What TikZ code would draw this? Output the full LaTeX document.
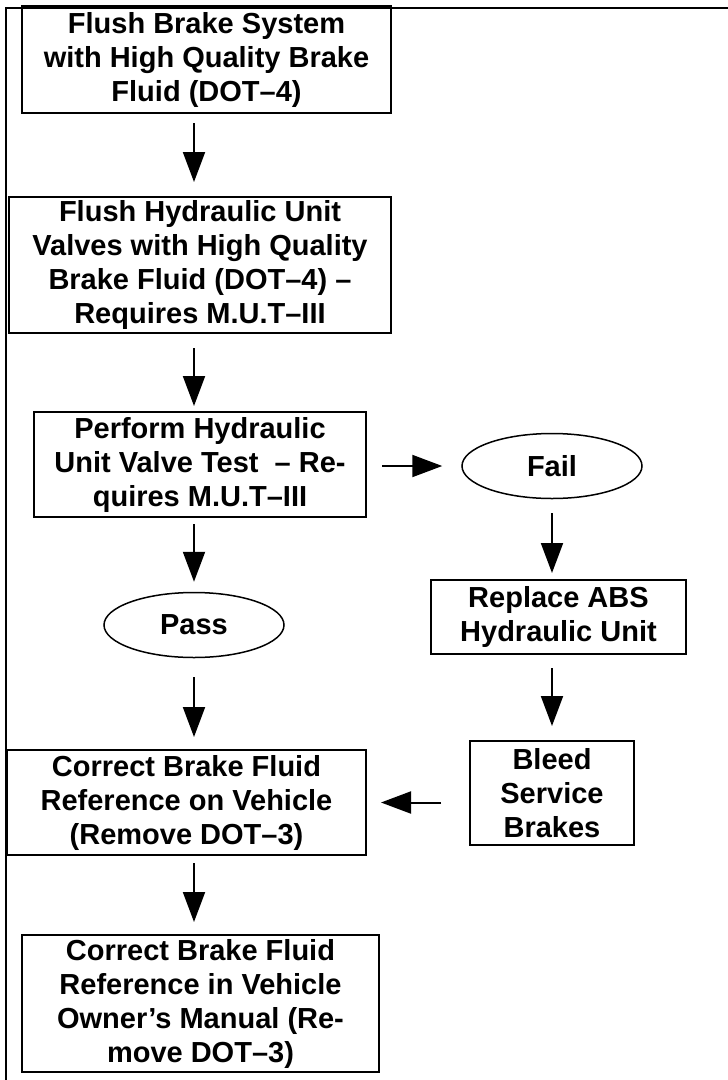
\documentclass[tikz,border=0pt]{standalone}
\usepackage{fontspec}
\setmainfont{Liberation Sans}
\usetikzlibrary{arrows.meta,shapes.geometric}

\tikzset{
    stepbox/.style={draw, line width=2pt, align=center, inner sep=0pt},
    outcome/.style={draw, ellipse, line width=1.5pt, inner sep=0pt, minimum width=180pt, minimum height=65pt},
    flowarrow/.style={line width=2pt, -{Triangle[width=22pt,length=30pt]}}
}

\begin{document}
\begin{tikzpicture}[x=1pt, y=-1pt, font=\fontsize{29}{34}\selectfont\bfseries]
    \useasboundingbox (0,0) rectangle (728,1080);
    \draw[line width=2pt] (6,1080) -- (6,8) -- (728,8);

    \node[stepbox, minimum width=369pt, minimum height=107pt] (flush) at (206.5,59.5)
        {Flush Brake System\\with High Quality Brake\\Fluid (DOT–4)};
    \node[stepbox, minimum width=382pt, minimum height=136pt] (hydflush) at (200,265)
        {Flush Hydraulic Unit\\Valves with High Quality\\Brake Fluid (DOT–4) –\\Requires M.U.T–III};
    \node[stepbox, minimum width=332pt, minimum height=105pt] (valvetest) at (200,464.5)
        {Perform Hydraulic\\Unit Valve Test \ – Re-\\quires M.U.T–III};
    \node[outcome] (fail) at (552,466) {Fail};
    \node[outcome] (pass) at (194,625) {Pass};
    \node[stepbox, minimum width=255pt, minimum height=74pt] (replace) at (558.5,617)
        {Replace ABS\\Hydraulic Unit};
    \node[stepbox, minimum width=164pt, minimum height=104pt] (bleed) at (552,793)
        {Bleed\\Service\\Brakes};
    \node[stepbox, minimum width=359pt, minimum height=105pt] (fixlabel) at (186.5,802.5)
        {Correct Brake Fluid\\Reference on Vehicle\\(Remove DOT–3)};
    \node[stepbox, minimum width=357pt, minimum height=137pt] (fixmanual) at (200.5,1003.5)
        {Correct Brake Fluid\\Reference in Vehicle\\Owner’s Manual (Re-\\move DOT–3)};

    \draw[flowarrow, shorten <=9pt, shorten >=14pt] (flush.south -| pass) -- (hydflush.north -| pass);
    \draw[flowarrow, shorten <=14pt, shorten >=5pt] (hydflush.south -| pass) -- (valvetest.north -| pass);
    \draw[flowarrow, shorten <=6pt, shorten >=10pt] (valvetest.south -| pass) -- (pass.north);
    \draw[flowarrow, shorten <=15pt, shorten >=19pt] (valvetest.east |- fail) -- (fail.west);
    \draw[flowarrow, shorten <=14pt, shorten >=6pt] (fail.south) -- (fail.south |- replace.north);
    \draw[flowarrow, shorten <=13pt, shorten >=14pt] (bleed.north |- replace.south) -- (bleed.north);
    \draw[flowarrow, shorten <=19pt, shorten >=12pt] (pass.south) -- (fixlabel.north -| pass);
    \draw[flowarrow, shorten <=28pt, shorten >=14pt] (fixlabel.east -| bleed.west) -- (fixlabel.east);
    \draw[flowarrow, shorten <=7pt, shorten >=12pt] (fixlabel.south -| pass) -- (fixmanual.north -| pass);
\end{tikzpicture}
\end{document}
